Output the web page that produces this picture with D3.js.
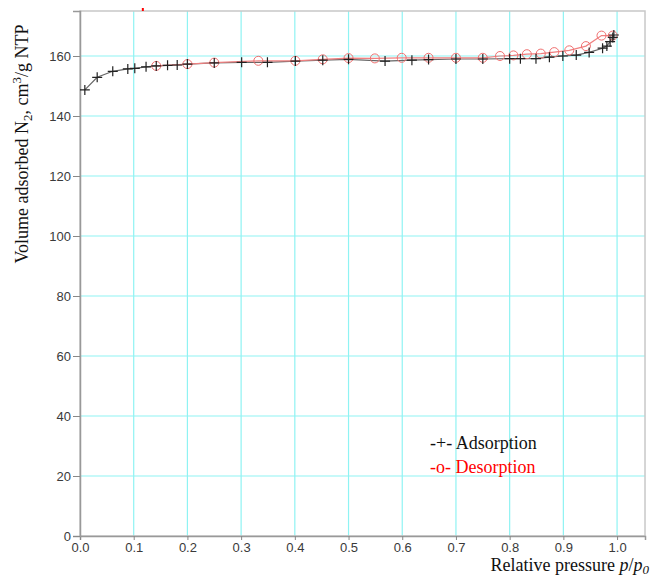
<!DOCTYPE html>
<html><head><meta charset="utf-8">
<script src="https://cdn.jsdelivr.net/npm/d3@7"></script>
<style>body{margin:0;background:#fff}</style>
</head><body>
<svg id="c" width="651" height="582"></svg>
<script>
const adsX = [0.009,0.032,0.061,0.089,0.102,0.123,0.142,0.163,0.181,0.200,0.250,0.301,0.349,0.401,0.452,0.500,0.568,0.618,0.649,0.700,0.750,0.800,0.820,0.849,0.874,0.899,0.924,0.948,0.973,0.981,0.987,0.992,0.994];
const adsY = [148.7,152.9,154.9,155.7,155.9,156.4,156.7,156.9,157.0,157.3,157.7,157.9,157.9,158.3,158.6,158.9,158.3,158.6,158.8,159.0,159.0,159.1,159.1,159.1,159.6,160.0,160.3,161.2,162.6,163.3,164.8,166.2,167.0];
const desX = [0.142,0.200,0.250,0.332,0.401,0.452,0.500,0.549,0.599,0.649,0.700,0.750,0.782,0.807,0.832,0.858,0.883,0.911,0.942,0.971,0.992];
const desY = [156.7,157.3,157.8,158.4,158.4,158.9,159.3,159.2,159.4,159.4,159.4,159.4,160.0,160.2,160.6,160.8,161.3,161.9,163.3,166.8,166.8];
const xTicks = [0,0.1,0.2,0.3,0.4,0.5,0.6,0.7,0.8,0.9,1.0];
const yTicks = [0,20,40,60,80,100,120,140,160];

const svg = d3.select("#c");
const L=80, R=645, T=11, B=536;
const x = d3.scaleLinear().domain([0,1.052]).range([L,R]);
const y = d3.scaleLinear().domain([0,175]).range([B,T]);

// grid
const g = svg.append("g");
g.selectAll(".gx").data(xTicks.slice(1)).join("line")
 .attr("x1",d=>x(d)).attr("x2",d=>x(d)).attr("y1",T).attr("y2",B)
 .attr("stroke","#8ff3f3").attr("stroke-width",1.2);
g.selectAll(".gy").data(yTicks.slice(1)).join("line")
 .attr("x1",L).attr("x2",R).attr("y1",d=>y(d)).attr("y2",d=>y(d))
 .attr("stroke","#8ff3f3").attr("stroke-width",1.2);

// frame
svg.append("rect").attr("x",L).attr("y",T).attr("width",R-L).attr("height",B-T)
 .attr("fill","none").attr("stroke","#c8c8c8").attr("stroke-width",1.5);

// axes
const xa = svg.append("g").attr("transform",`translate(0,${B})`)
 .call(d3.axisBottom(x).tickValues(xTicks).tickFormat(d3.format(".1f")).tickSize(4).tickPadding(3));
const ya = svg.append("g").attr("transform",`translate(${L},0)`)
 .call(d3.axisLeft(y).tickValues(yTicks).tickSize(7).tickPadding(2));
[xa,ya].forEach(a=>{
  a.select(".domain").attr("stroke","#999").attr("stroke-width",1.5);
  a.selectAll(".tick line").attr("stroke","#888");
  a.selectAll("text").attr("fill","#3a3a3a").style("font-family","Liberation Sans, Arial, sans-serif").style("font-size","13px");
});

const clip = svg.append("clipPath").attr("id","cp").append("rect").attr("x",L).attr("y",T).attr("width",R-L).attr("height",B-T);
const pg = svg.append("g").attr("clip-path","url(#cp)");

const ads = adsX.map((v,i)=>[v,adsY[i]]);
const des = desX.map((v,i)=>[v,desY[i]]);
const line = d3.line().x(d=>x(d[0])).y(d=>y(d[1]));

pg.append("path").datum(ads).attr("d",line).attr("fill","none").attr("stroke","#666").attr("stroke-width",1.2);
pg.append("path").datum(des).attr("d",line).attr("fill","none").attr("stroke","#f08080").attr("stroke-width",1.2);

pg.selectAll(".cir").data(des).join("circle")
 .attr("cx",d=>x(d[0])).attr("cy",d=>y(d[1])).attr("r",4.5)
 .attr("fill","none").attr("stroke","#f07070").attr("stroke-width",1);

const s=5;
pg.selectAll(".pl").data(ads).join("path")
 .attr("d",d=>`M${x(d[0])-s},${y(d[1])}H${x(d[0])+s}M${x(d[0])},${y(d[1])-s}V${y(d[1])+s}`)
 .attr("stroke","#222").attr("stroke-width",1.2).attr("fill","none");

// small red mark at top
svg.append("line").attr("x1",x(0.117)).attr("x2",x(0.117)).attr("y1",T-3).attr("y2",T)
 .attr("stroke","red").attr("stroke-width",2);

// y title
svg.append("text").attr("transform","translate(28,144) rotate(-90)")
 .attr("text-anchor","middle").style("font-family","Liberation Serif, Times New Roman, serif").style("font-size","18px").attr("fill","#111")
 .html('Volume adsorbed N<tspan dy="4" font-size="13px">2</tspan><tspan dy="-4">, cm</tspan><tspan dy="-7" font-size="13px">3</tspan><tspan dy="7">/g NTP</tspan>');

// x title
svg.append("text").attr("x",649).attr("y",571).attr("text-anchor","end")
 .style("font-family","Liberation Serif, Times New Roman, serif").style("font-size","18px").attr("fill","#111")
 .html('Relative pressure <tspan font-style="italic">p</tspan>/<tspan font-style="italic">p</tspan><tspan font-style="italic" dy="3" font-size="13px">0</tspan>');

// legend
const lg = svg.append("g").style("font-family","Liberation Serif, Times New Roman, serif").style("font-size","18px");
lg.append("text").attr("x",430).attr("y",449).attr("fill","#111").text("-+- Adsorption");
lg.append("text").attr("x",430).attr("y",473).attr("fill","red").text("-o- Desorption");
</script>
</body></html>
